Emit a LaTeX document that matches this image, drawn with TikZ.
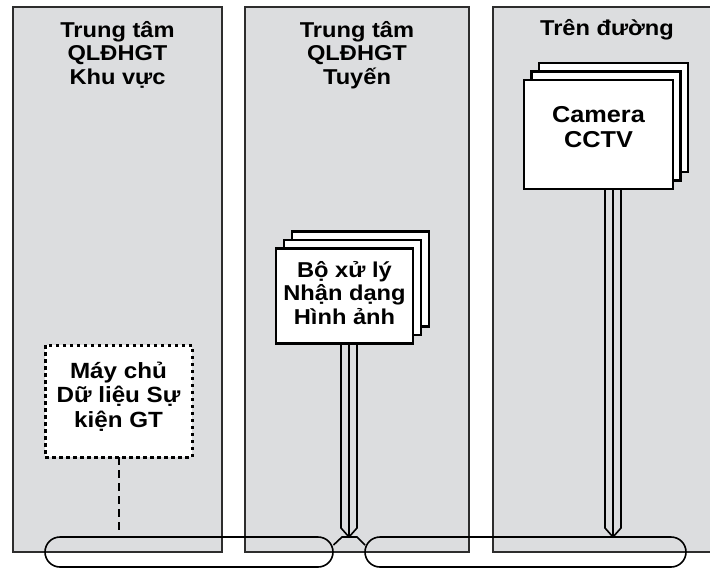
\documentclass[tikz,border=0pt]{standalone}
\usepackage{fontspec}
\setmainfont{Liberation Sans}[FakeStretch=1.1]
\usetikzlibrary{calc}
\definecolor{panelgray}{RGB}{220,221,223}
\definecolor{edgegray}{RGB}{45,45,45}
\begin{document}
\begin{tikzpicture}[x=1pt,y=-1pt,
  panel/.style={rectangle, fill=panelgray, draw=edgegray, line width=1.6pt, inner sep=0pt, outer sep=0pt},
  txt/.style={font=\bfseries\fontsize{21.5}{23.4}\selectfont, align=center, inner sep=0pt, anchor=north},
  bigtxt/.style={font=\bfseries\fontsize{23}{25}\selectfont, align=center, inner sep=0pt, anchor=north},
  dbtxt/.style={font=\bfseries\fontsize{22}{24.3}\selectfont, align=center, inner sep=0pt, anchor=north},
  stackbox/.style={rectangle, fill=white, draw=black, line width=2.8pt, inner sep=0pt, outer sep=0pt},
  dotbox/.style={rectangle, fill=white, draw=black, line width=3pt, dash pattern=on 3.5pt off 3.5pt, inner sep=0pt, outer sep=0pt},
  bus/.style={rectangle, draw=black, line width=1.6pt, rounded corners=15pt, inner sep=0pt, outer sep=0pt, minimum height=30pt},
  stem/.style={draw=black, line width=1.6pt, line join=miter},
  link/.style={draw=black, line width=1.6pt},
  dashlink/.style={draw=black, line width=2pt, dash pattern=on 8pt off 5pt}
]
\useasboundingbox (0,0) rectangle (710,568);
\clip (0,0) rectangle (710,568);

% panels
\node[panel, minimum width=209pt, minimum height=545pt] (pL) at (117.5,279.5) {};
\node[panel, minimum width=224pt, minimum height=545pt] (pM) at (357,279.5) {};
\node[panel, minimum width=228pt, minimum height=545pt] (pR) at (607,279.5) {};

% titles
\node[txt] (tL) at (117.5,21) {Trung tâm\\QLĐHGT\\Khu vực};
\node[txt] (tM) at (357,21) {Trung tâm\\QLĐHGT\\Tuyến};
\node[txt] (tR) at (607,19) {Trên đường};

% buses
\node[bus, minimum width=288pt] (busL) at (189,552) {};
\node[bus, minimum width=321pt] (busR) at (525.5,552) {};

% camera stack
\node[stackbox, minimum width=149pt, minimum height=109pt] (camB) at (613.5,117.5) {};
\node[stackbox, minimum width=149pt, minimum height=109pt] (camM) at (606,126) {};
\node[stackbox, minimum width=149pt, minimum height=109pt] (cam) at (598.5,134.5) {};
\node[bigtxt] (camT) at (598.5,106) {Camera\\CCTV};

% processor stack
\node[stackbox, minimum width=137pt, minimum height=95pt] (procB) at (360.5,279.3) {};
\node[stackbox, minimum width=137pt, minimum height=95pt] (procM) at (352.5,287.5) {};
\node[stackbox, minimum width=137pt, minimum height=95pt] (proc) at (344.5,295.8) {};
\node[txt] (procT) at (344.5,261) {Bộ xử lý\\Nhận dạng\\Hình ảnh};

% database server
\node[dotbox, minimum width=147pt, minimum height=112pt] (db) at (118.5,401) {};
\node[dbtxt] (dbT) at (118.5,362) {Máy chủ\\Dữ liệu Sự\\kiện GT};

% stems (double-line arrows)
\coordinate (procTip) at (349,537);
\coordinate (camTip) at (613,537);
\path[stem] ($(proc.south -| procTip)+(-8,0)$) -- ($(procTip)+(-8,-9)$) -- (procTip) -- ($(procTip)+(8,-9)$) -- ($(proc.south -| procTip)+(8,0)$);
\path[stem] (proc.south -| procTip) -- (procTip);
\path[stem] ($(cam.south -| camTip)+(-8,0)$) -- ($(camTip)+(-8,-9)$) -- (camTip) -- ($(camTip)+(8,-9)$) -- ($(cam.south -| camTip)+(8,0)$);
\path[stem] (cam.south -| camTip) -- (camTip);

% junction between buses
\coordinate (jL) at (342,537);
\coordinate (jR) at (357,537);
\coordinate (bLend) at (333.5,545);
\coordinate (bRend) at (365,545);
\path[link] (bLend) -- (jL) -- (jR) -- (bRend);

% dashed link from server to bus
\path[dashlink] (db.south) -- ($(db.south |- busL.north)+(0,-4)$);
\end{tikzpicture}
\end{document}
